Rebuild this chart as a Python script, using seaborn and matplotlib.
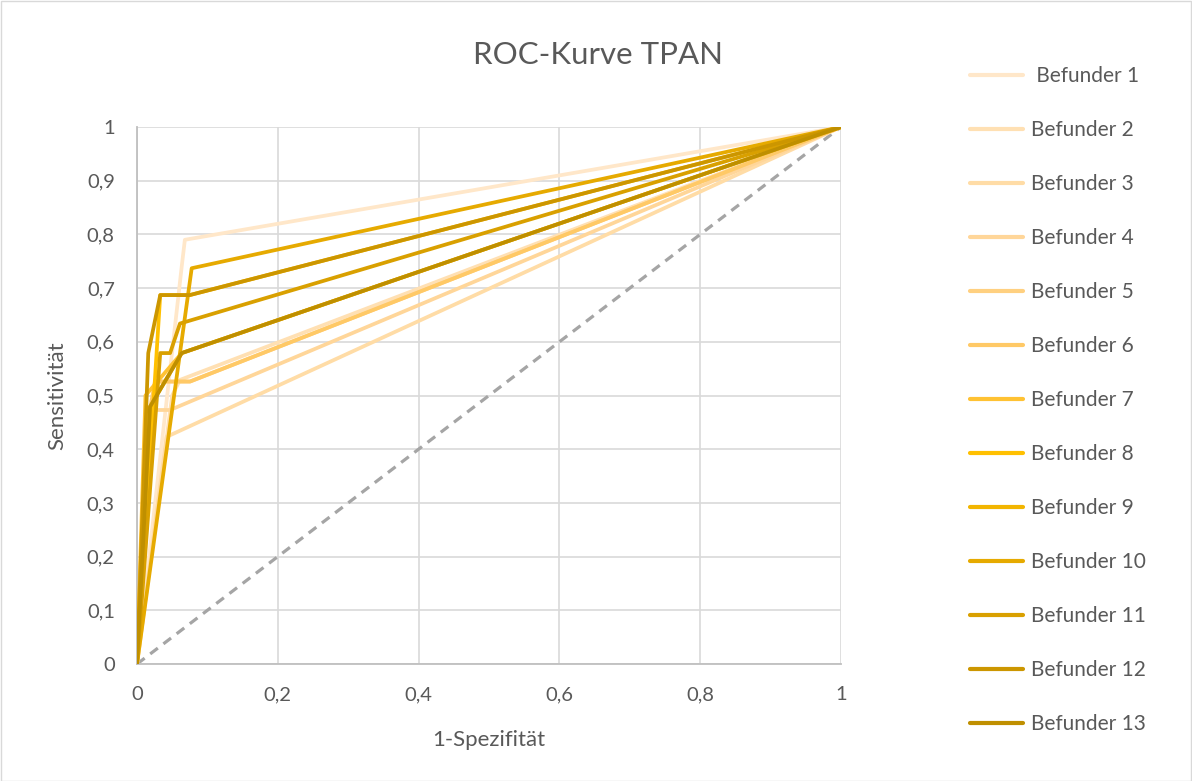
import matplotlib
matplotlib.use("Agg")
import matplotlib.pyplot as plt
import seaborn as sns
import pandas as pd
from matplotlib.patches import Rectangle
from matplotlib.lines import Line2D

# ---------------- data ----------------
series_names = [" Befunder 1", "Befunder 2", "Befunder 3", "Befunder 4", "Befunder 5",
                "Befunder 6", "Befunder 7", "Befunder 8", "Befunder 9", "Befunder 10",
                "Befunder 11", "Befunder 12", "Befunder 13"]
series_colors = ["#FFE7C9", "#FFE0B3", "#FFDCA6", "#FFD699", "#FFD080", "#FFC966",
                 "#FFC233", "#FFC000", "#F2B500", "#E6AA00", "#D9A000", "#CC9600", "#BF8F00"]

fpr_1 = [0, 0.0635, 0.068, 1];            tpr_1 = [0, 0.74, 0.79, 1]
fpr_2 = [0, 0.05, 0.061, 1];              tpr_2 = [0, 0.50, 0.529, 1]
fpr_3 = [0, 0.042, 1];                    tpr_3 = [0, 0.423, 1]
fpr_4 = [0, 0.0256, 0.047, 1];            tpr_4 = [0, 0.473, 0.473, 1]
fpr_5 = [0, 0.0256, 0.0753, 1];           tpr_5 = [0, 0.526, 0.526, 1]
fpr_6 = [0, 0.015, 0.0256, 0.0753, 1];    tpr_6 = [0, 0.45, 0.526, 0.526, 1]
fpr_7 = [0, 0.012, 0.0635, 1];            tpr_7 = [0, 0.50, 0.579, 1]
fpr_8 = [0, 0.033, 0.075, 1];             tpr_8 = [0, 0.687, 0.687, 1]
fpr_9 = [0, 0.0185, 0.0635, 1];           tpr_9 = [0, 0.479, 0.579, 1]
fpr_10 = [0, 0.0777, 1];                  tpr_10 = [0, 0.737, 1]
fpr_11 = [0, 0.033, 0.047, 0.061, 1];     tpr_11 = [0, 0.579, 0.579, 0.634, 1]
fpr_12 = [0, 0.016, 0.033, 0.075, 1];     tpr_12 = [0, 0.579, 0.687, 0.687, 1]
fpr_13 = [0, 0.0185, 0.0635, 1];          tpr_13 = [0, 0.479, 0.579, 1]

fpr_all = [fpr_1, fpr_2, fpr_3, fpr_4, fpr_5, fpr_6, fpr_7, fpr_8, fpr_9, fpr_10, fpr_11, fpr_12, fpr_13]
tpr_all = [tpr_1, tpr_2, tpr_3, tpr_4, tpr_5, tpr_6, tpr_7, tpr_8, tpr_9, tpr_10, tpr_11, tpr_12, tpr_13]

diag_x = [0, 1]
diag_y = [0, 1]

x_ticks = [0, 0.2, 0.4, 0.6, 0.8, 1]
x_tick_labels = ["0", "0,2", "0,4", "0,6", "0,8", "1"]
y_ticks = [0, 0.1, 0.2, 0.3, 0.4, 0.5, 0.6, 0.7, 0.8, 0.9, 1]
y_tick_labels = ["0", "0,1", "0,2", "0,3", "0,4", "0,5", "0,6", "0,7", "0,8", "0,9", "1"]

title = "ROC-Kurve TPAN"
x_label = "1-Spezifität"
y_label = "Sensitivität"

# ---------------- build table ----------------
rows = []
for name, xs, ys in zip(series_names, fpr_all, tpr_all):
    for i, (xv, yv) in enumerate(zip(xs, ys)):
        rows.append({"Befunder": name, "fpr": xv, "tpr": yv, "order": i})
df = pd.DataFrame(rows)

# ---------------- plot ----------------
sns.set_theme(style="white")
plt.rcParams['font.family'] = ['Lato', 'DejaVu Sans']

fig = plt.figure(figsize=(11.92, 7.81), dpi=100)
ax = fig.add_axes([137/1192, 1 - 664/781, (841-137)/1192, (664-127)/781])

text_color = "#595959"
grid_color = "#D9D9D9"

ax.plot(diag_x, diag_y, linestyle=(0, (3, 2.2)), color="#A5A5A5", linewidth=2.3, zorder=2)

sns.lineplot(data=df, x="fpr", y="tpr", hue="Befunder", palette=series_colors,
             hue_order=series_names, sort=False, estimator=None, units="Befunder",
             linewidth=2.7, ax=ax, legend=False, zorder=3)

ax.set_xlim(0, 1)
ax.set_ylim(0, 1)
ax.set_xticks(x_ticks)
ax.set_xticklabels(x_tick_labels)
ax.set_yticks(y_ticks)
ax.set_yticklabels(y_tick_labels)
ax.grid(True, color=grid_color, linewidth=1.2, zorder=0)
ax.set_axisbelow(True)
for side in ["top", "right"]:
    ax.spines[side].set_visible(False)
for side in ["left", "bottom"]:
    ax.spines[side].set_color("#BFBFBF")
    ax.spines[side].set_linewidth(1.3)
ax.tick_params(axis="both", length=0, labelsize=14.5, colors=text_color)
ax.tick_params(axis="x", pad=16)
ax.tick_params(axis="y", pad=16)

ax.set_xlabel(x_label, fontsize=16, color=text_color, labelpad=19)
ax.set_ylabel(y_label, fontsize=16, color=text_color, labelpad=14)

fig.text(598/1192, 1 - 55/781, title, fontsize=22.5, color=text_color, ha="center", va="center")

handles = [Line2D([0], [0], color=c, linewidth=3.0) for c in series_colors]
leg = fig.legend(handles, series_names, loc="upper left",
                 bbox_to_anchor=(962/1192, 1 - 58/781), frameon=False,
                 fontsize=15, handlelength=2.55, handletextpad=0.34,
                 labelspacing=1.63, borderaxespad=0)
for t in leg.get_texts():
    t.set_color(text_color)

fig.patches.append(Rectangle((0.5/1192, 0.5/781), 1 - 1.5/1192, 1 - 1.5/781,
                             transform=fig.transFigure, fill=False,
                             edgecolor="#D9D9D9", linewidth=1.0))

fig.savefig("out.png", dpi=100)
